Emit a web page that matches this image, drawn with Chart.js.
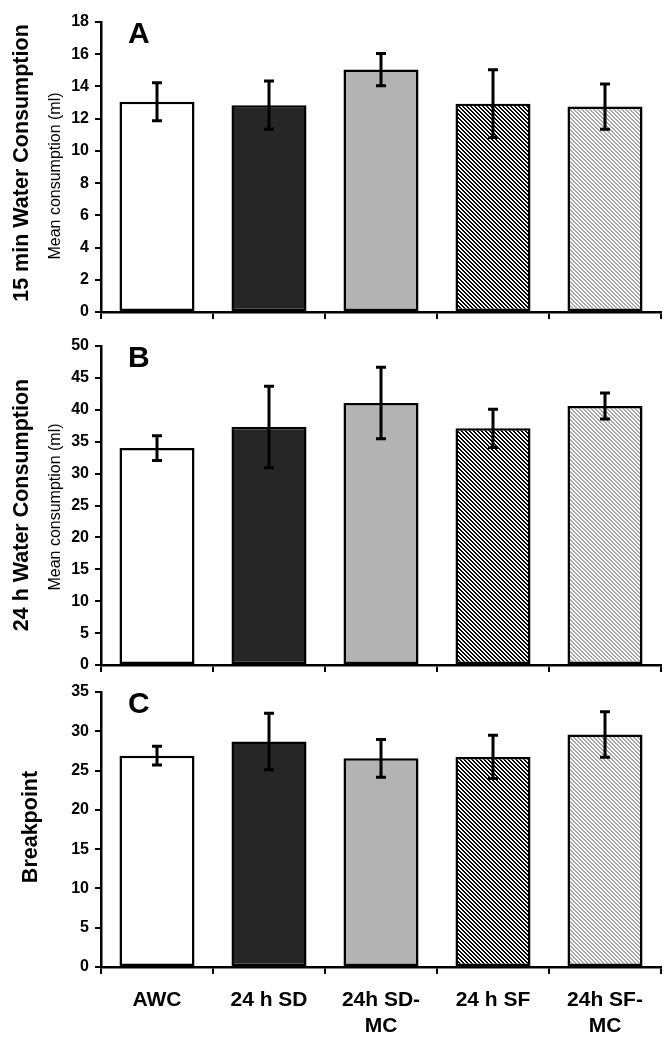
<!DOCTYPE html>
<html><head><meta charset="utf-8">
<script src="https://cdn.jsdelivr.net/npm/chart.js@4.4.1/dist/chart.umd.min.js"></script>
<style>
html,body{margin:0;padding:0;background:#fff;width:669px;height:1050px;overflow:hidden}
canvas{position:absolute;left:0}
</style></head><body>
<canvas id="cA" width="669" height="330" style="top:0"></canvas>
<canvas id="cB" width="669" height="350" style="top:330px"></canvas>
<canvas id="cC" width="669" height="370" style="top:680px"></canvas>
<script>
// ---- data ----
const categories = ['AWC', '24 h SD', ['24h SD-', 'MC'], '24 h SF', ['24h SF-', 'MC']];
const water15min = [13.05, 12.84, 15.05, 12.93, 12.75];
const water15minErr = [1.18, 1.5, 1.0, 2.1, 1.4];
const water24h = [34.0, 37.3, 41.05, 37.1, 40.6];
const water24hErr = [1.93, 6.4, 5.6, 3.0, 2.05];
const breakpoint = [26.9, 28.7, 26.56, 26.73, 29.6];
const breakpointErr = [1.2, 3.6, 2.4, 2.75, 2.9];
const panelTitles = ['15 min Water Consumption', '24 h Water Consumption', 'Breakpoint'];
const panelSubtitle = 'Mean consumption (ml)';
const panelLetters = ['A', 'B', 'C'];
const axisMax = [18, 50, 35];
const axisStep = [2, 5, 5];

const FONT = "'Liberation Sans', Arial, Helvetica, sans-serif";

function makePattern(fg, bg, period, on) {
  const c = document.createElement('canvas');
  c.width = period; c.height = period;
  const g = c.getContext('2d');
  g.fillStyle = bg; g.fillRect(0, 0, period, period);
  g.fillStyle = fg;
  for (let y = 0; y < period; y++)
    for (let x = 0; x < period; x++)
      if ((((x - y) % period) + period) % period < on) g.fillRect(x, y, 1, 1);
  return g.createPattern(c, 'repeat');
}
const fills = [
  '#ffffff',
  '#262626',
  '#b3b3b3',
  makePattern('#000000', '#ffffff', 4, 2),
  makePattern('#a8a8a8', '#ffffff', 4, 2)
];

const errorBars = {
  id: 'errorBars',
  afterDatasetsDraw(chart) {
    const ctx = chart.ctx, ys = chart.scales.y;
    chart.data.datasets.forEach((ds, i) => {
      const meta = chart.getDatasetMeta(i);
      meta.data.forEach((bar, j) => {
        const v = ds.data[j], e = ds.errors[j];
        const yt = ys.getPixelForValue(v + e), yb = ys.getPixelForValue(v - e);
        const x = Math.round(bar.x);
        ctx.save();
        ctx.strokeStyle = '#000'; ctx.lineWidth = 3; ctx.lineCap = 'butt';
        ctx.beginPath();
        ctx.moveTo(x, yt); ctx.lineTo(x, yb);
        ctx.moveTo(x - 5, yt); ctx.lineTo(x + 5, yt);
        ctx.moveTo(x - 5, yb); ctx.lineTo(x + 5, yb);
        ctx.stroke();
        ctx.restore();
      });
    });
  }
};

const panelText = {
  id: 'panelText',
  afterDraw(chart, args, o) {
    const ctx = chart.ctx, a = chart.chartArea;
    ctx.save();
    ctx.fillStyle = '#000';
    ctx.font = 'bold 30px ' + FONT;
    ctx.textAlign = 'left'; ctx.textBaseline = 'alphabetic';
    ctx.fillText(o.letter, 128, a.top + 21);
    const rot = (txt, font, x, y) => {
      ctx.save();
      ctx.translate(x, y); ctx.rotate(-Math.PI / 2);
      ctx.font = font; ctx.textAlign = 'center'; ctx.textBaseline = 'middle';
      ctx.fillText(txt, 0, 0);
      ctx.restore();
    };
    rot(o.title, 'bold 21.5px ' + FONT, o.tx, o.ty);
    if (o.sub) rot(o.sub, '16px ' + FONT, o.sx, o.sy);
    ctx.restore();
  }
};

function makeChart(id, values, errors, idx, opts) {
  return new Chart(document.getElementById(id), {
    type: 'bar',
    data: {
      labels: categories,
      datasets: [{
        data: values, errors: errors,
        backgroundColor: fills,
        borderColor: '#000', borderWidth: 2.5, borderSkipped: false,
        barPercentage: 0.67, categoryPercentage: 1
      }]
    },
    options: {
      responsive: false, animation: false, devicePixelRatio: 1,
      layout: { padding: { top: opts.top, right: 8, left: 0, bottom: 0 } },
      plugins: {
        legend: { display: false }, tooltip: { enabled: false },
        panelText: Object.assign({ letter: panelLetters[idx], title: panelTitles[idx] }, opts.text)
      },
      scales: {
        x: {
          grid: { display: true, offset: true, drawOnChartArea: false, drawTicks: true, tickLength: 7, color: '#000', lineWidth: 2 },
          border: { display: true, color: '#000', width: 2.5 },
          ticks: { display: opts.labels, color: '#000', font: { family: FONT, size: 21, weight: 'bold', lineHeight: 1.25 }, padding: 13, maxRotation: 0, autoSkip: false },
          afterFit(s) { s.height = opts.xh; s.paddingLeft = 0; s.paddingRight = 0; }
        },
        y: {
          min: 0, max: axisMax[idx],
          ticks: { stepSize: axisStep[idx], color: '#000', font: { family: FONT, size: 16, weight: 'bold' }, padding: 6 },
          grid: { display: true, drawOnChartArea: false, drawTicks: true, tickLength: 6, color: '#000', lineWidth: 2 },
          border: { display: true, color: '#000', width: 2.5 },
          afterFit(s) { s.width = 101; s.paddingTop = 0; s.paddingBottom = 0; }
        }
      }
    },
    plugins: [errorBars, panelText]
  });
}

makeChart('cA', water15min, water15minErr, 0, { top: 22, xh: 18, labels: false,
  text: { tx: 22, ty: 163, sub: panelSubtitle, sx: 56, sy: 176 } });
makeChart('cB', water24h, water24hErr, 1, { top: 16, xh: 15, labels: false,
  text: { tx: 22, ty: 175, sub: panelSubtitle, sx: 56, sy: 177 } });
makeChart('cC', breakpoint, breakpointErr, 2, { top: 12, xh: 83, labels: true,
  text: { tx: 31, ty: 147 } });
</script>
</body></html>
